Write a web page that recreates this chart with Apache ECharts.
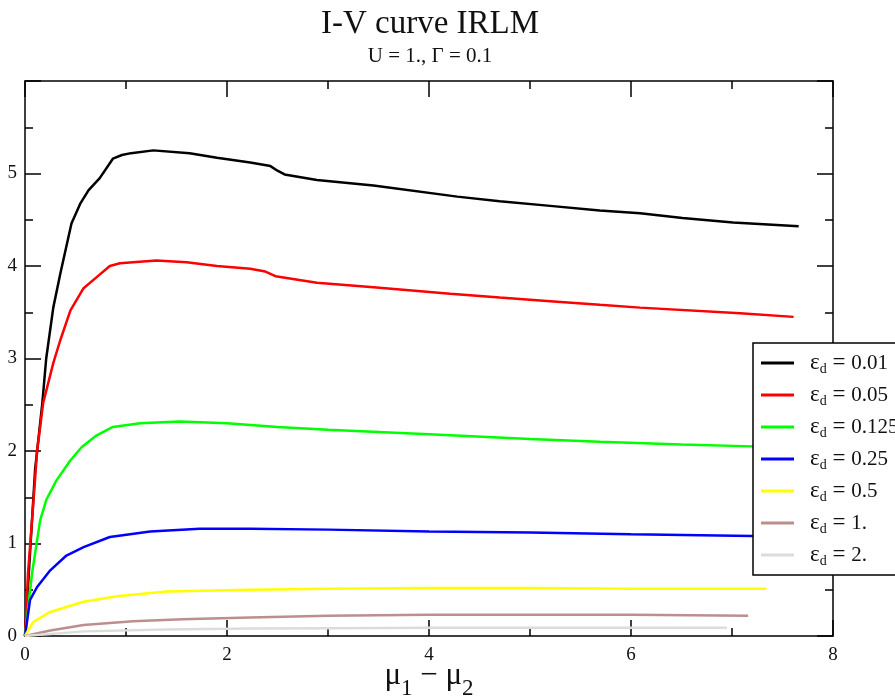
<!DOCTYPE html>
<html>
<head>
<meta charset="utf-8">
<script src="https://cdn.jsdelivr.net/npm/echarts@6/dist/echarts.min.js"></script>
<style>
  html, body { margin: 0; padding: 0; background: #fff; }
  #chart { width: 895px; height: 700px; }
</style>
</head>
<body>
<div id="chart"></div>
<script>
// Current I versus bias μ1 − μ2 for the IRLM, one curve per dot level εd
const levelLabels = ['0.01', '0.05', '0.125', '0.25', '0.5', '1.', '2.'];
const lineColors = ['#000000', '#ff0000', '#00ff00', '#0000ff', '#ffff00', '#bc8f8f', '#dcdcdc'];

const biasEps001 = [0, 0.05, 0.1, 0.17, 0.21, 0.28, 0.35, 0.46, 0.55, 0.63, 0.74, 0.87, 0.96, 1.05, 1.27, 1.63, 1.9, 2.23, 2.43, 2.5, 2.57, 2.89, 3.45, 4.28, 4.7, 5.2, 5.69, 6.09, 6.51, 7.01, 7.66];
const currEps001 = [0, 0.9, 1.8, 2.5, 3.0, 3.55, 3.92, 4.46, 4.68, 4.82, 4.95, 5.16, 5.2, 5.22, 5.25, 5.22, 5.17, 5.12, 5.08, 5.03, 4.99, 4.93, 4.87, 4.75, 4.70, 4.65, 4.6, 4.57, 4.52, 4.47, 4.43];

const biasEps005 = [0, 0.03, 0.08, 0.12, 0.18, 0.28, 0.35, 0.45, 0.58, 0.71, 0.84, 0.94, 1.3, 1.6, 1.9, 2.23, 2.38, 2.48, 2.89, 3.45, 4.21, 4.7, 5.2, 5.69, 6.09, 7.08, 7.61];
const currEps005 = [0, 0.68, 1.4, 2.0, 2.52, 2.95, 3.2, 3.52, 3.76, 3.88, 4.0, 4.03, 4.06, 4.04, 4.0, 3.97, 3.94, 3.89, 3.82, 3.77, 3.7, 3.66, 3.62, 3.58, 3.55, 3.49, 3.45];

const biasEps0125 = [0, 0.07, 0.15, 0.21, 0.31, 0.45, 0.56, 0.71, 0.87, 1.14, 1.53, 2.0, 2.5, 3.0, 4.0, 5.0, 5.69, 6.5, 7.2, 7.6];
const currEps0125 = [0, 0.68, 1.25, 1.47, 1.68, 1.9, 2.04, 2.17, 2.26, 2.3, 2.32, 2.3, 2.26, 2.23, 2.18, 2.13, 2.1, 2.07, 2.05, 2.03];

const biasEps025 = [0, 0.05, 0.12, 0.25, 0.41, 0.58, 0.84, 1.24, 1.73, 2.23, 3.0, 4.0, 5.0, 6.0, 7.2, 7.6];
const currEps025 = [0, 0.39, 0.53, 0.71, 0.87, 0.96, 1.07, 1.13, 1.16, 1.16, 1.15, 1.13, 1.12, 1.10, 1.08, 1.08];

const biasEps05 = [0, 0.08, 0.25, 0.58, 0.91, 1.4, 2.23, 3.0, 4.0, 5.0, 6.0, 7.34];
const currEps05 = [0, 0.15, 0.26, 0.37, 0.43, 0.48, 0.5, 0.51, 0.52, 0.52, 0.51, 0.51];

const biasEps1 = [0, 0.25, 0.58, 1.07, 1.56, 2.23, 3.0, 4.0, 5.0, 6.0, 7.16];
const currEps1 = [0, 0.06, 0.12, 0.16, 0.18, 0.2, 0.22, 0.23, 0.23, 0.23, 0.22];

const biasEps2 = [0, 0.58, 1.4, 2.23, 3.0, 4.0, 5.0, 6.0, 6.95];
const currEps2 = [0, 0.05, 0.07, 0.08, 0.085, 0.09, 0.09, 0.09, 0.09];

const xTickLabels = ['0', '2', '4', '6', '8'];
const yTickLabels = ['0', '1', '2', '3', '4', '5'];

const curves = [
  [biasEps001, currEps001],
  [biasEps005, currEps005],
  [biasEps0125, currEps0125],
  [biasEps025, currEps025],
  [biasEps05, currEps05],
  [biasEps1, currEps1],
  [biasEps2, currEps2]
];

const serif = '"Liberation Serif", "Times New Roman", "DejaVu Serif", serif';

const series = curves.map(function (c, i) {
  return {
    name: 'εd = ' + levelLabels[i],
    type: 'line',
    xAxisIndex: 0,
    yAxisIndex: 0,
    showSymbol: false,
    symbol: 'none',
    smooth: false,
    clip: true,
    color: lineColors[i],
    lineStyle: { color: lineColors[i], width: 2.5 },
    data: c[0].map(function (x, k) { return [x, c[1][k]]; })
  };
});

// Every side of the frame carries inward major and minor ticks
function frameAxis(extra) {
  return Object.assign({
    type: 'value',
    axisLine: { show: true, onZero: false, lineStyle: { color: '#000', width: 1.5 } },
    axisTick: { show: true, inside: true, length: 16, lineStyle: { color: '#000', width: 1.5 } },
    minorTick: { show: true, splitNumber: 2, length: 8, lineStyle: { color: '#000', width: 1.5 } },
    splitLine: { show: false },
    minorSplitLine: { show: false }
  }, extra);
}

const chart = echarts.init(document.getElementById('chart'), null, { renderer: 'canvas' });
chart.setOption({
  backgroundColor: '#ffffff',
  animation: false,
  title: {
    text: 'I-V curve IRLM',
    subtext: 'U = 1., Γ = 0.1',
    left: 430,
    top: 8,
    padding: 0,
    textAlign: 'center',
    itemGap: 5,
    textStyle: { fontFamily: serif, fontSize: 33, fontWeight: 'normal', color: '#111' },
    subtextStyle: { fontFamily: serif, fontSize: 21, color: '#111' }
  },
  legend: {
    orient: 'vertical',
    left: 753,
    top: 343,
    padding: [7, 40, 7, 8],
    itemGap: 6,
    itemWidth: 33,
    itemHeight: 3,
    icon: 'rect',
    backgroundColor: '#ffffff',
    borderColor: '#000',
    borderWidth: 1.5,
    borderRadius: 0,
    data: series.map(function (s) { return s.name; }),
    formatter: function (name) {
      const v = name.split('= ')[1];
      return '{e|ε}{s|d}{q| = }{t|' + v + '}';
    },
    textStyle: {
      fontFamily: serif,
      color: '#111',
      rich: {
        e: { fontFamily: serif, fontSize: 23, lineHeight: 26, color: '#111', padding: [0, 0, 0, 11] },
        s: { fontFamily: serif, fontSize: 14, lineHeight: 14, color: '#111', padding: [12, 0, 0, 0] },
        q: { fontFamily: serif, fontSize: 23, lineHeight: 26, color: '#111' },
        t: { fontFamily: serif, fontSize: 21, lineHeight: 26, color: '#111' }
      }
    }
  },
  grid: { left: 25, right: 62, top: 81, bottom: 64, containLabel: false, outerBoundsMode: 'none' },
  xAxis: [
    frameAxis({
      position: 'bottom', min: 0, max: 8, interval: 2,
      name: '{m|μ}{s|1}{g| − }{m|μ}{s|2}',
      nameLocation: 'middle',
      nameGap: 24,
      nameMoveOverlap: false,
      nameTextStyle: {
        rich: {
          m: { fontFamily: serif, fontSize: 31, lineHeight: 31, color: '#111' },
          g: { fontFamily: serif, fontSize: 31, lineHeight: 31, color: '#111' },
          s: { fontFamily: serif, fontSize: 23, lineHeight: 23, color: '#111', padding: [26, 0, 0, 0] }
        }
      },
      axisLabel: {
        show: true, margin: 10, fontFamily: serif, fontSize: 19, color: '#111',
        formatter: function (v) { const i = xTickLabels.indexOf(String(v)); return i >= 0 ? xTickLabels[i] : ''; }
      }
    }),
    frameAxis({
      position: 'top', min: 0, max: 8, interval: 2,
      axisLabel: { show: false }
    })
  ],
  yAxis: [
    frameAxis({
      position: 'left', min: 0, max: 6, interval: 1,
      axisLabel: {
        show: true, margin: 8, fontFamily: serif, fontSize: 19, color: '#111',
        formatter: function (v) { const i = yTickLabels.indexOf(String(v)); return i >= 0 ? yTickLabels[i] : ''; }
      }
    }),
    frameAxis({
      position: 'right', min: 0, max: 6, interval: 1,
      axisLabel: { show: false }
    })
  ],
  series: series
});
</script>
</body>
</html>
